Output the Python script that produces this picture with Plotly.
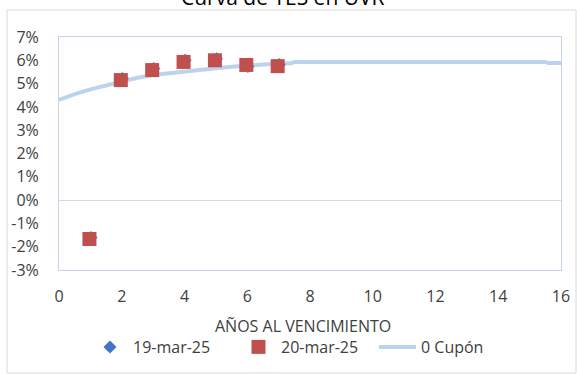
import plotly.graph_objects as go

# Data (percent)
x_19 = [1.02, 2.02, 3.02, 4.02, 5.02, 6.02, 7.02]
y_19 = [-1.6, 5.22, 5.65, 6.0, 6.07, 5.73, 5.82]
x_20 = [0.97, 1.97, 2.97, 3.97, 4.97, 5.97, 6.97]
y_20 = [-1.67, 5.15, 5.58, 5.93, 6.0, 5.8, 5.75]
x_curve = [0, 0.5, 1, 1.5, 2, 2.5, 3, 3.5, 4, 4.5, 5, 5.5, 6, 6.5, 7, 7.4, 7.5, 8, 10, 12, 14, 15.5, 15.6, 16]
y_curve = [4.3, 4.55, 4.75, 4.93, 5.08, 5.25, 5.37, 5.45, 5.52, 5.6, 5.66, 5.72, 5.78, 5.83, 5.86, 5.87, 5.93, 5.93, 5.93, 5.93, 5.93, 5.93, 5.88, 5.88]
y_ticks = [-3, -2, -1, 0, 1, 2, 3, 4, 5, 6, 7]
y_ticktext = [f"{v}%" for v in y_ticks]
x_ticks = [0, 2, 4, 6, 8, 10, 12, 14, 16]

FONT = "Open Sans"
TXT = "#404040"
L, R, T, B = 59, 16, 37, 104
PW, PH = 577 - L - R, 374 - T - B


def px(xp):
    return (xp - L) / PW


def py(yp):
    return (374 - B - yp) / PH


fig = go.Figure()
fig.add_trace(go.Scatter(x=x_curve, y=y_curve, mode="lines", name="0 Cupón",
                         line=dict(color="#BCD3EE", width=4), legend="legend3"))
fig.add_trace(go.Scatter(x=x_19, y=y_19, mode="markers", name="19-mar-25",
                         marker=dict(symbol="diamond", color="#4472C4", size=10),
                         legend="legend"))
fig.add_trace(go.Scatter(x=x_20, y=y_20, mode="markers", name="20-mar-25",
                         marker=dict(symbol="square", color="#C0504D", size=14),
                         legend="legend2"))

leg_common = dict(orientation="h", y=py(347), yanchor="middle", xanchor="left",
                  font=dict(size=16, color=TXT, family=FONT), bgcolor="rgba(0,0,0,0)")

fig.update_layout(
    width=577, height=374,
    margin=dict(l=L, r=R, t=T, b=B, autoexpand=False),
    plot_bgcolor="white", paper_bgcolor="white",
    font=dict(family=FONT, size=16, color=TXT),
    showlegend=True,
    legend=dict(x=px(87), itemwidth=36, **leg_common),
    legend2=dict(x=px(236), itemwidth=35, **leg_common),
    legend3=dict(x=px(374), itemwidth=37, **leg_common),
    xaxis=dict(range=[0, 16], tickvals=x_ticks, showgrid=False, zeroline=False,
               showline=True, linecolor="#C5D4E6", mirror=True, linewidth=1,
               ticks="", ticklabelstandoff=12, tickfont=dict(size=16), automargin=False),
    yaxis=dict(range=[-3, 7], tickvals=y_ticks, ticktext=y_ticktext, showgrid=False,
               zeroline=True, zerolinecolor="#D9D9D9", zerolinewidth=1,
               showline=True, linecolor="#C5D4E6", mirror=True, linewidth=1,
               ticks="", ticklabelstandoff=16, tickfont=dict(size=16), automargin=False),
    annotations=[
        dict(text="Curva de TES en UVR", xref="paper", yref="paper", x=px(283), y=py(-3),
             xanchor="center", yanchor="middle", showarrow=False,
             font=dict(size=21, color="#000000", family=FONT)),
        dict(text="AÑOS AL VENCIMIENTO", xref="paper", yref="paper", x=px(303), y=py(326),
             xanchor="center", yanchor="middle", showarrow=False,
             font=dict(size=16, color=TXT, family=FONT)),
    ],
    shapes=[
        dict(type="rect", xref="paper", yref="paper",
             x0=px(7), x1=px(576), y0=py(373), y1=py(10),
             line=dict(color="#D9D9D9", width=1), fillcolor="rgba(0,0,0,0)", layer="below"),
    ],
)

fig.write_html("out.html", config={"displayModeBar": False},
               post_script="document.body.style.margin='0';document.body.style.overflow='hidden';")
